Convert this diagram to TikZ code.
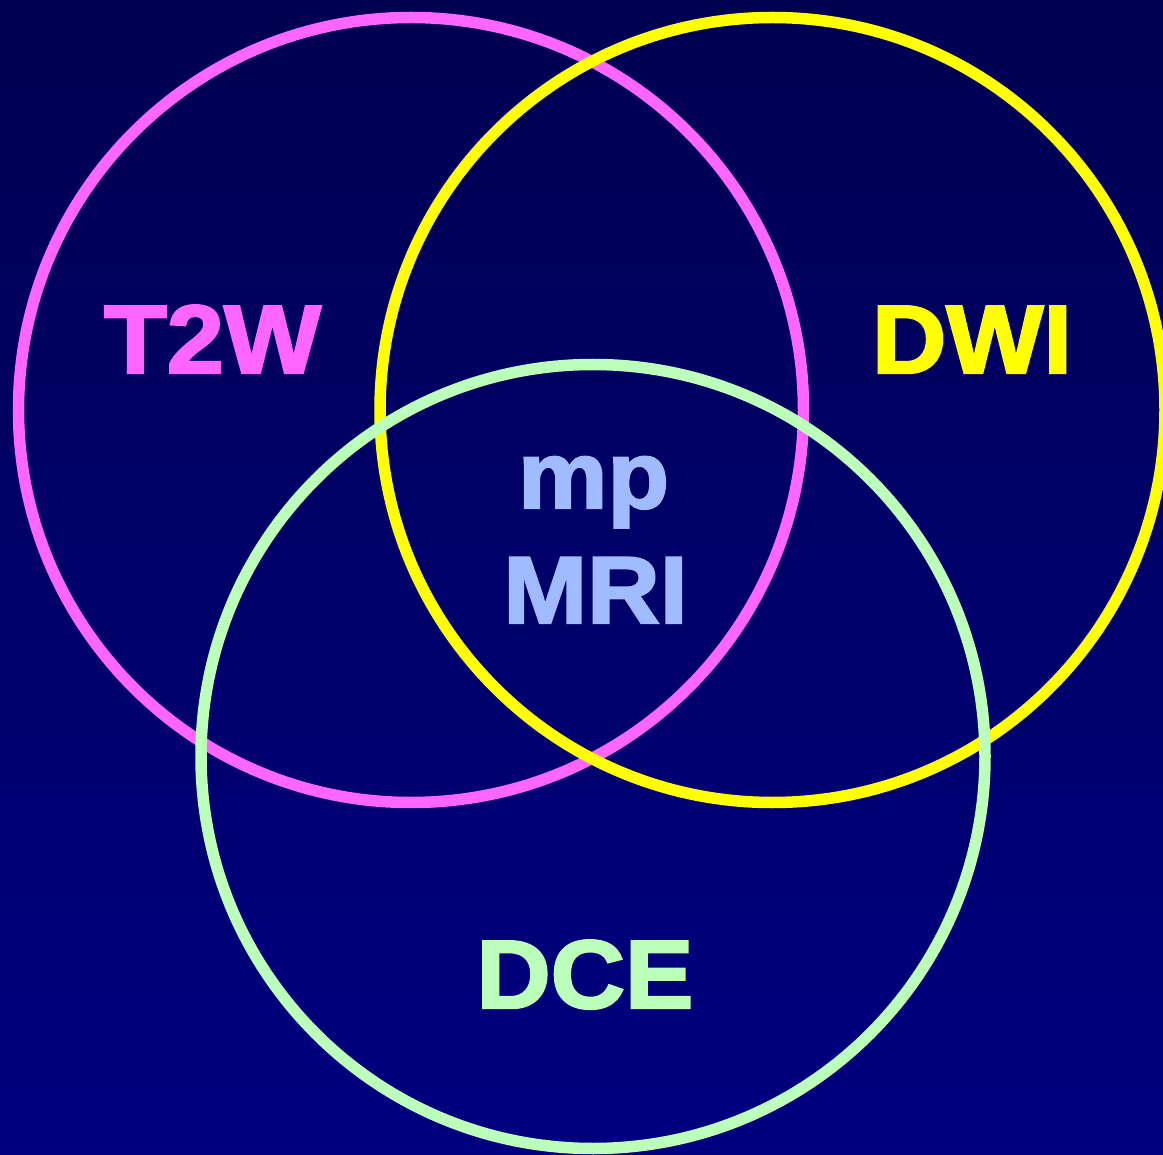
\documentclass[tikz,border=0pt]{standalone}
\usepackage{fontspec}
\setmainfont{Liberation Sans}[FakeStretch=1.06,FakeBold=2.5]
\definecolor{bgtop}{RGB}{0,0,82}
\definecolor{bgbot}{RGB}{0,0,128}
\definecolor{cpink}{RGB}{255,102,255}
\definecolor{cyellow}{RGB}{255,255,0}
\definecolor{cgreen}{RGB}{187,255,187}
\definecolor{cblue}{RGB}{160,187,255}
\tikzset{
  ring/.style={line width=11.5pt},
  lbl/.style={font=\fontsize{97}{117}\selectfont\bfseries, inner sep=0pt, anchor=base},
  mid/.style={font=\fontsize{95}{115}\selectfont\bfseries, inner sep=0pt, anchor=base, text=cblue}
}
\begin{document}
\begin{tikzpicture}[x=1pt,y=1pt]
  \shade[top color=bgtop, bottom color=bgbot] (0,0) rectangle (1163,-1155);
  \useasboundingbox (0,0) rectangle (1163,-1155);
  \draw[ring, cpink] (411,-410) circle[radius=392.5pt];
  \draw[ring, cyellow] (772.5,-410) circle[radius=392.5pt];
  \draw[ring, cgreen] (593,-756.5) circle[radius=392pt];
  \node[lbl, text=cpink] (t2w) at (212.5,-373) {T2W};
  \node[lbl, text=cyellow] (dwi) at (972,-373) {DWI};
  \node[lbl, text=cgreen] (dce) at (585,-1008) {DCE};
  \node[mid] (mp) at (593.5,-508) {mp};
  \node[mid] (mri) at (595.5,-623) {MRI};
\end{tikzpicture}
\end{document}
